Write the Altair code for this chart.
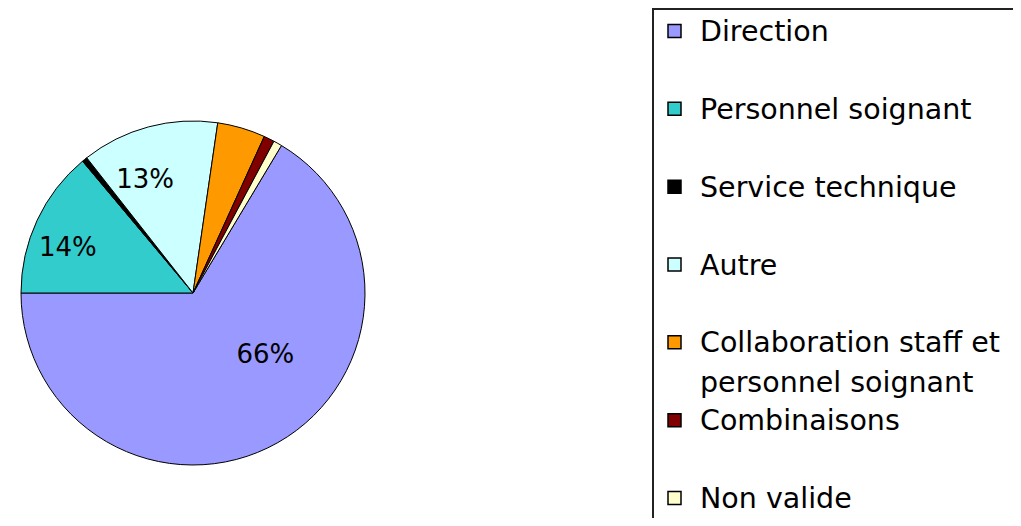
import altair as alt
import pandas as pd
import math

cats = ["Direction", "Personnel soignant", "Service technique", "Autre",
        "Collaboration staff et\npersonnel soignant", "Combinaisons", "Non valide"]
values = [66.4, 13.9, 0.5, 12.9, 4.5, 1.0, 0.8]
colors = ["#9999FF", "#33CCCC", "#000000", "#CCFFFF", "#FF9900", "#800000", "#FFFFCC"]
pct_labels = ["66%", "14%", "", "13%", "", "", ""]

df = pd.DataFrame({"cat": cats, "value": values, "pct": pct_labels,
                   "idx": list(range(len(cats)))})

start = math.radians(270 - values[0] / sum(values) * 360)
theta_scale = alt.Scale(range=[start, start + 2 * math.pi])
color_scale = alt.Scale(domain=cats, range=colors)

CX, CY, R = 185, 285, 172
FONT = "DejaVu Sans"

base = alt.Chart(df)

pie = base.mark_arc(outerRadius=R, stroke="black", strokeWidth=1).encode(
    x=alt.value(CX), y=alt.value(CY),
    theta=alt.Theta("value:Q", stack=True, scale=theta_scale),
    color=alt.Color("cat:N", scale=color_scale, legend=None),
    order=alt.Order("idx:Q"),
)

def pie_label(cat, radius, offset):
    return base.mark_text(radius=radius, thetaOffset=offset, font=FONT, fontSize=26,
                          color="black").encode(
        x=alt.value(CX), y=alt.value(CY),
        theta=alt.Theta("value:Q", stack=True, scale=theta_scale),
        order=alt.Order("idx:Q"),
        text=alt.condition(alt.datum.cat == cat, "pct:N", alt.value("")),
    )

lab1 = pie_label(cats[0], 95, 2 * math.pi - 0.35)
lab2 = pie_label(cats[1], 133, 2 * math.pi - 0.09)
lab3 = pie_label(cats[3], 123, 2 * math.pi - 0.14)

yscale = alt.Scale(type="point", domain=cats, range=[23, 490], padding=0)

leg_sym = base.mark_square(size=169, stroke="black", strokeWidth=1.5, opacity=1).encode(
    x=alt.value(666.5),
    y=alt.Y("cat:N", scale=yscale, axis=None),
    fill=alt.Fill("cat:N", scale=color_scale, legend=None),
)
leg_txt = base.mark_text(align="left", baseline="alphabetic", dy=10, font=FONT,
                         fontSize=28.5, lineBreak="\n", lineHeight=40,
                         color="black").encode(
    x=alt.value(692),
    y=alt.Y("cat:N", scale=yscale, axis=None),
    text="cat:N",
)

box_left = base.mark_rule(color="#222222", strokeWidth=2).encode(
    x=alt.value(645), y=alt.value(0), y2=alt.value(510))
box_top = base.mark_rule(color="#222222", strokeWidth=2).encode(
    x=alt.value(644), x2=alt.value(1005), y=alt.value(1))

chart = alt.layer(pie, lab1, lab2, lab3, leg_sym, leg_txt, box_left, box_top).properties(
    width=1005, height=510,
    autosize=alt.AutoSizeParams(type="none"),
    padding=0,
).configure_view(stroke=None)

chart.save("out.html", embed_options={"renderer": "svg", "actions": False})
